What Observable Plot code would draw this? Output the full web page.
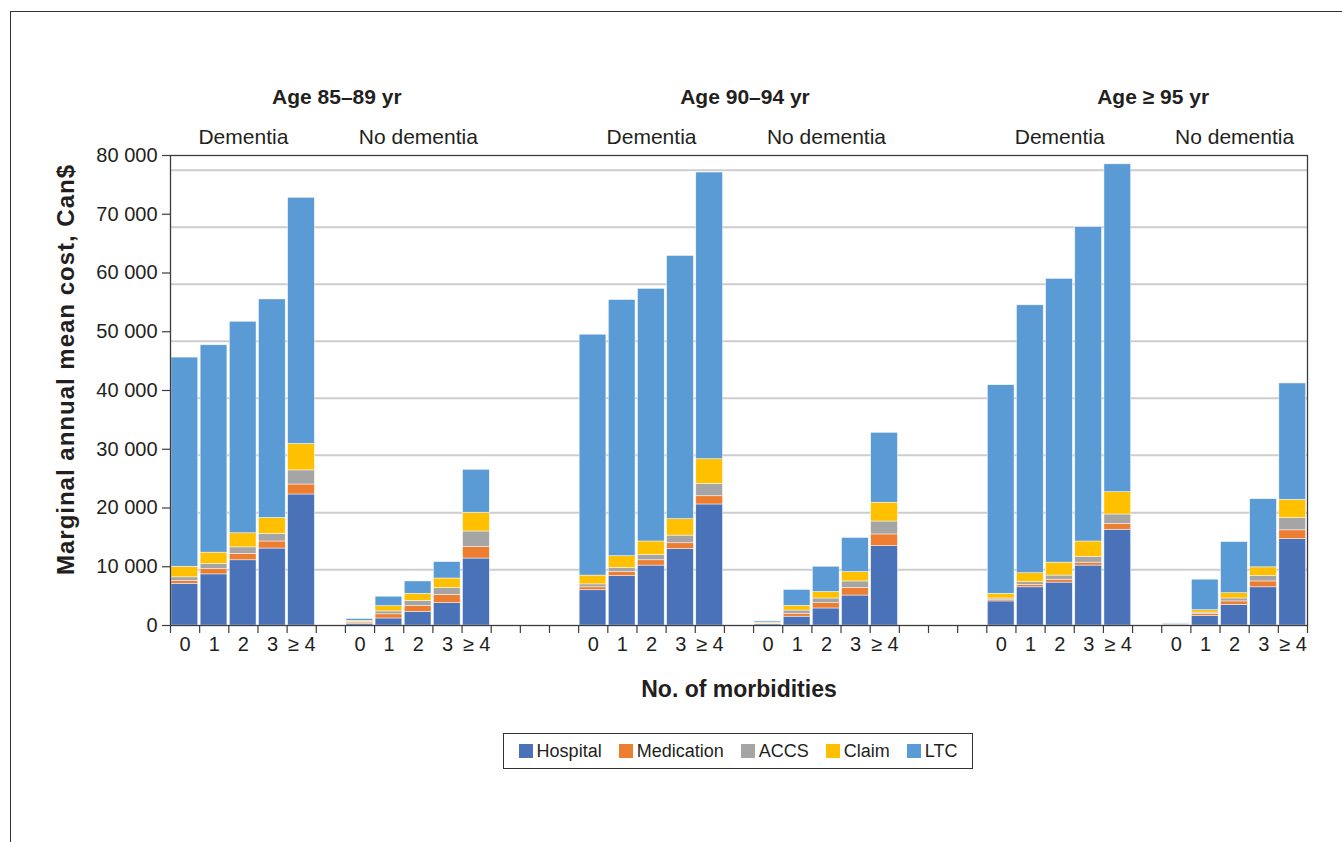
<!DOCTYPE html>
<html>
<head>
<meta charset="utf-8">
<script src="https://cdn.jsdelivr.net/npm/d3@7"></script>
<script src="https://cdn.jsdelivr.net/npm/@observablehq/plot@0.6"></script>
<style>
  html, body { margin: 0; padding: 0; background: #fff; }
  #wrap { position: relative; width: 1342px; height: 842px; overflow: hidden; font-family: "Liberation Sans", Arial, sans-serif; color: #231f20; }
  #outer { position: absolute; left: 10px; top: 11px; right: -10px; bottom: -10px; border-top: 1.5px solid #333; border-left: 1.5px solid #333; }
  #chart { position: absolute; left: 0; top: 0; }
  #legend { position: absolute; left: 503px; top: 733px; width: 468px; height: 34px; border: 1.5px solid #333; display: flex; align-items: center; justify-content: center; background: #fff; }
  #legend .lg-swatches { min-height: 0 !important; margin: 0 !important; display: flex; align-items: center; justify-content: center; font-family: "Liberation Sans", Arial, sans-serif !important; font-size: 18px !important; color: #231f20 !important; }
  #legend .lg-swatch { margin-right: 17px !important; display: inline-flex; align-items: center; }
  #legend .lg-swatch:last-child { margin-right: 0 !important; }
  #legend .lg-swatch > svg { margin-right: 4px !important; }
</style>
</head>
<body>
<div id="wrap">
  <div id="outer"></div>
  <div id="chart"></div>
  <div id="legend"></div>
</div>
<script>
// ---- Data ----
const ageGroups = ["Age 85–89 yr", "Age 90–94 yr", "Age ≥ 95 yr"];
const statuses = ["Dementia", "No dementia"];
const morbidities = ["0", "1", "2", "3", "≥ 4"];
const components = ["Hospital", "Medication", "ACCS", "Claim", "LTC"];
const colors = ["#4a72b8", "#ed7d31", "#a5a5a5", "#ffc000", "#5b9bd5"];

// Order: age group → dementia / no dementia → morbidities 0..≥4
const hospital = [
  7100, 8700, 11100, 13100, 22300,   300, 1200, 2300, 3800, 11400,
  6000, 8400, 10200, 13000, 20600,   200, 1500, 2900, 5100, 13500,
  4100, 6500, 7300, 10200, 16300,    150, 1600, 3500, 6500, 14700
];
const medication = [
  500, 900, 1100, 1200, 1700,   200, 700, 1000, 1400, 2000,
  500, 700, 900, 1000, 1400,    100, 500, 900, 1300, 2000,
  300, 400, 500, 500, 1000,     50, 400, 600, 1000, 1500
];
const accs = [
  600, 900, 1100, 1300, 2400,   100, 500, 900, 1200, 2600,
  500, 700, 900, 1300, 2100,    50, 550, 800, 1100, 2200,
  200, 500, 700, 1000, 1600,    30, 200, 500, 900, 2100
];
const claim = [
  1800, 1900, 2400, 2700, 4500,   200, 900, 1200, 1600, 3200,
  1500, 2000, 2300, 2800, 4200,   150, 800, 1100, 1600, 3200,
  800, 1500, 2200, 2600, 3800,    40, 400, 900, 1500, 3100
];
const ltc = [
  35600, 35300, 36000, 37200, 41900,   300, 1600, 2100, 2800, 7300,
  41000, 43600, 43000, 44800, 48800,   200, 2700, 4300, 5800, 11900,
  35500, 45600, 48300, 53500, 55800,   80, 5200, 8700, 11600, 19800
];

const yTicks = [0, 10000, 20000, 30000, 40000, 50000, 60000, 70000, 80000];
// gridlines as drawn on the chart's back wall (slightly offset from the ticks)
const gridLines = [9500, 19200, 29000, 38700, 48400, 58100, 67800, 77500];

const xTitle = "No. of morbidities";
const yTitle = "Marginal annual mean cost, Can$";

// ---- Layout of slots on the category axis ----
const groupSpan = 14;   // 5 bars + 1 gap + 5 bars + 3 gap
const statusSpan = 6;   // 5 bars + 1 gap
const nSlots = 39;
const series = [hospital, medication, accs, claim, ltc];

const table = [];
const labelPos = new Map();
for (let i = 0; i < 30; i++) {
  const a = Math.floor(i / 10), s = Math.floor(i / 5) % 2, m = i % 5;
  const pos = a * groupSpan + s * statusSpan + m;
  labelPos.set(pos + 0.5, morbidities[m]);
  let acc = 0;
  components.forEach((c, k) => {
    const v = series[k][i];
    table.push({type: c, x1: pos, x2: pos + 1, y1: acc, y2: acc + v, value: v});
    acc += v;
  });
}
const subLabels = [];
ageGroups.forEach((ag, a) => statuses.forEach((st, s) => subLabels.push({text: st, x: a * groupSpan + s * statusSpan + 2.5})));
const ageLabels = ageGroups.map((ag, a) => ({text: ag, x: a * groupSpan + 5.5}));

const fmt = v => d3.format(",")(v).replace(/,/g, " ");
const font = "'Liberation Sans', Arial, Helvetica, sans-serif";

const plot = Plot.plot({
  width: 1342,
  height: 842,
  marginLeft: 170,
  marginRight: 35,
  marginTop: 155,
  marginBottom: 217,
  x: {type: "linear", domain: [0, nSlots]},
  y: {domain: [0, 80000]},
  color: {domain: components, range: colors},
  style: {fontFamily: font, fontSize: "20px", color: "#231f20", background: "transparent", overflow: "visible"},
  marks: [
    Plot.ruleY(gridLines, {stroke: "#cdcdcd", strokeWidth: 2}),
    Plot.rect(table, {x1: "x1", x2: "x2", y1: "y1", y2: "y2", fill: "type", insetLeft: 1, insetRight: 1.4, stroke: "#ffffff", strokeWidth: 0.6, strokeOpacity: 0.8}),
    Plot.frame({stroke: "#3c3c3c", strokeWidth: 1.3}),
    Plot.axisY(yTicks, {tickSize: 8, tickPadding: 5, tickFormat: fmt, label: null, fontSize: 20, stroke: "#3c3c3c", strokeWidth: 1.2}),
    Plot.axisX(d3.range(nSlots + 1), {tickSize: 8, tickFormat: () => "", label: null, stroke: "#3c3c3c", strokeWidth: 1.2}),
    Plot.axisX([...labelPos.keys()], {tickSize: 0, tickPadding: 11, tickFormat: d => labelPos.get(d), label: null, fontSize: 20}),
    Plot.text(ageLabels, {x: "x", text: "text", frameAnchor: "top", lineAnchor: "middle", dy: -58, dx: 6, fontWeight: "bold", fontSize: 21, fill: "#231f20"}),
    Plot.text(subLabels, {x: "x", text: "text", frameAnchor: "top", lineAnchor: "middle", dy: -18, fontSize: 21, fill: "#231f20"}),
    Plot.text([xTitle], {text: d => d, frameAnchor: "bottom", lineAnchor: "middle", dy: 64, fontWeight: "bold", fontSize: 23, fill: "#231f20"}),
    Plot.text([yTitle], {text: d => d, frameAnchor: "left", textAnchor: "middle", lineAnchor: "middle", rotate: -90, dx: -104, dy: -21, fontWeight: "bold", fontSize: 24, fill: "#231f20"})
  ]
});
// slightly widen the tracking of the vertical title, as in the reference
d3.select(plot).selectAll("text").filter(function() { return this.textContent === yTitle; }).style("letter-spacing", "1px");
document.getElementById("chart").appendChild(plot);

const legend = Plot.legend({
  color: {domain: components, range: colors},
  legend: "swatches",
  swatchSize: 14,
  className: "lg",
  style: {fontFamily: font, fontSize: "18px"}
});
document.getElementById("legend").appendChild(legend);
</script>
</body>
</html>
